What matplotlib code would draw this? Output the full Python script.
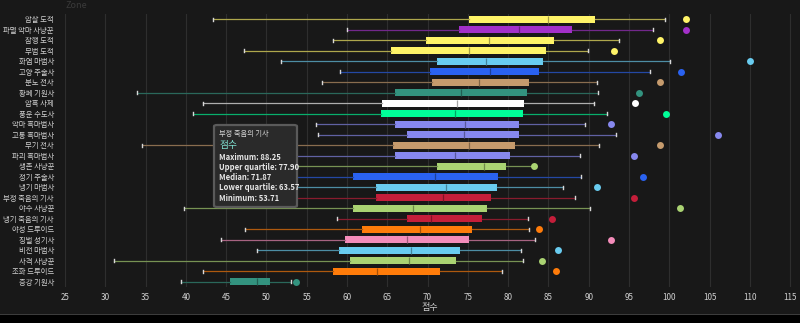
import matplotlib
matplotlib.use("Agg")
import matplotlib.pyplot as plt
from matplotlib.patches import Rectangle, FancyBboxPatch
from matplotlib.colors import to_rgb
import numpy as np

plt.rcParams['font.family'] = ['Noto Sans CJK KR', 'DejaVu Sans']

specs = ["암살 도적", "파멸 악마 사냥꾼", "잠행 도적", "무법 도적", "화염 마법사",
         "고양 주술사", "분노 전사", "황폐 기원사", "암흑 사제", "풍운 수도사",
         "악마 흑마법사", "고통 흑마법사", "무기 전사", "파괴 흑마법사", "생존 사냥꾼",
         "정기 주술사", "냉기 마법사", "부정 죽음의 기사", "야수 사냥꾼", "냉기 죽음의 기사",
         "야성 드루이드", "징벌 성기사", "비전 마법사", "사격 사냥꾼", "조화 드루이드",
         "증강 기원사"]
mins = [43.4, 60.0, 58.3, 47.2, 51.8, 59.1, 56.9, 33.9, 42.1, 40.9, 56.1, 56.4, 34.6,
        50.0, 52.0, 47.0, 51.0, 53.71, 39.8, 58.8, 47.4, 44.3, 48.8, 31.1, 42.1, 39.4]
q1s = [75.1, 73.9, 69.8, 65.5, 71.2, 70.3, 70.5, 66.0, 64.4, 64.2, 65.9, 67.5, 65.7,
       65.9, 71.2, 60.7, 63.6, 63.57, 60.7, 67.4, 61.8, 59.7, 59.0, 60.4, 58.3, 45.5]
meds = [85.0, 81.3, 77.6, 75.1, 77.3, 77.8, 76.4, 74.2, 73.7, 73.4, 74.6, 74.5, 75.1,
        73.4, 77.0, 70.9, 72.3, 71.87, 68.2, 70.4, 69.1, 67.4, 68.0, 67.7, 63.7, 48.8]
q3s = [90.8, 87.9, 85.7, 84.7, 84.3, 83.8, 82.6, 82.4, 82.0, 81.9, 81.4, 81.4, 80.8,
       80.2, 79.7, 78.8, 78.6, 77.90, 77.4, 76.7, 75.5, 75.1, 74.0, 73.5, 71.6, 50.4]
maxs = [99.5, 98.0, 93.7, 89.9, 100.1, 97.6, 91.0, 91.1, 90.6, 92.3, 89.5, 93.4, 91.3,
        88.9, 83.1, 89.1, 86.8, 88.25, 90.1, 82.5, 82.6, 83.3, 81.6, 81.8, 79.2, 53.0]
outliers = [102.1, 102.1, 98.8, 93.1, 110.0, 101.4, 98.8, 96.2, 95.8, 99.6, 92.8, 106.0, 98.8,
            95.6, 83.2, 96.7, 91.0, 95.6, 101.3, 85.5, 83.8, 92.8, 86.2, 84.2, 85.9, 53.7]
colors = ["#FFF468", "#A330C9", "#FFF468", "#FFF468", "#69CCF0", "#2a62f0", "#C69B6D",
          "#33937F", "#FFFFFF", "#00FF98", "#8788EE", "#8788EE", "#C69B6D", "#8788EE",
          "#AAD372", "#2a62f0", "#69CCF0", "#C41E3A", "#AAD372", "#C41E3A", "#FF7C0A",
          "#F48CBA", "#69CCF0", "#AAD372", "#FF7C0A", "#33937F"]
xticks = list(range(25, 120, 5))
tip_idx = specs.index("부정 죽음의 기사")

bg = "#181818"
fig = plt.figure(figsize=(8, 3.23), dpi=100, facecolor=bg)
ax = fig.add_axes([65/800, 1-287/323, 730/800, 273/323], facecolor=bg)

stats = []
for i in range(len(specs)):
    stats.append(dict(med=meds[i], q1=q1s[i], q3=q3s[i], whislo=mins[i], whishi=maxs[i],
                      fliers=[outliers[i]], label=specs[i]))
pos = np.arange(1, len(specs)+1)
res = ax.bxp(stats, positions=pos, orientation="horizontal", widths=0.62,
             patch_artist=True, showfliers=True, capwidths=0.3)

def mix(c, t, k):
    a = np.array(to_rgb(c)); b = np.array(to_rgb(t))
    return tuple(a*(1-k)+b*k)

for i, c in enumerate(colors):
    res["boxes"][i].set(facecolor=c, edgecolor="none")
    res["medians"][i].set(color=mix(c, "#000000", 0.35), linewidth=0.9)
    for w in res["whiskers"][2*i:2*i+2]:
        w.set(color=mix(c, bg, 0.35), linewidth=0.9)
    for cp in res["caps"][2*i:2*i+2]:
        cp.set(color="#d8d8d8", linewidth=1.0)
    res["fliers"][i].set(marker="o", markerfacecolor=c, markeredgecolor="none", markersize=5)

ax.set_xlim(25, 115.6)
ax.set_ylim(26.5, 0.5)
ax.set_xticks(xticks)
ax.set_xticklabels([str(t) for t in xticks])
ax.set_yticks(pos)
ax.set_yticklabels(specs)
ax.grid(axis="x", color="#2e2e2e", linewidth=0.8)
ax.set_axisbelow(True)
ax.tick_params(axis="both", length=0, colors="#d0d0d0")
ax.tick_params(axis="y", pad=8, labelsize=5.3)
ax.tick_params(axis="x", pad=4, labelsize=5.8)
for s in ax.spines.values():
    s.set_visible(False)
ax.set_xlabel("점수", color="#d0d0d0", fontsize=6.5, labelpad=1)

fig.text(65/800, 1-6/323, "Zone", color="#3a3a3a", fontsize=6.5, va="center", ha="left")

# bottom strip
fig.patches.append(Rectangle((0, 0), 1, 8/323, transform=fig.transFigure,
                             facecolor="#000000", edgecolor="none"))
fig.patches.append(Rectangle((0, 8/323), 1, 1.2/323, transform=fig.transFigure,
                             facecolor="#3c3c3c", edgecolor="none"))

# tooltip
fig.patches.append(FancyBboxPatch((214/800, 1-207/323), 83/800, 82/323,
                                  boxstyle="round,pad=0,rounding_size=0.004",
                                  transform=fig.transFigure, facecolor="#2a2a2a",
                                  edgecolor="#5a5a5a", linewidth=1.6, zorder=5))
tx = 219/800
fig.text(tx, 1-134/323, specs[tip_idx], color="#d8d8d8", fontsize=5.2, va="center", zorder=6)
fig.text(tx, 1-145/323, "점수", color="#7fe0d0", fontsize=7, va="center", zorder=6)
rows = [("Maximum", maxs[tip_idx]), ("Upper quartile", q3s[tip_idx]),
        ("Median", meds[tip_idx]), ("Lower quartile", q1s[tip_idx]),
        ("Minimum", mins[tip_idx])]
for k, (name, v) in enumerate(rows):
    fig.text(tx, 1-(157+10.3*k)/323, f"{name}: {v:.2f}", color="#e8e8e8", fontsize=5.5,
             fontweight="bold", va="center", zorder=6)

fig.savefig("out.png", dpi=100, facecolor=bg)
